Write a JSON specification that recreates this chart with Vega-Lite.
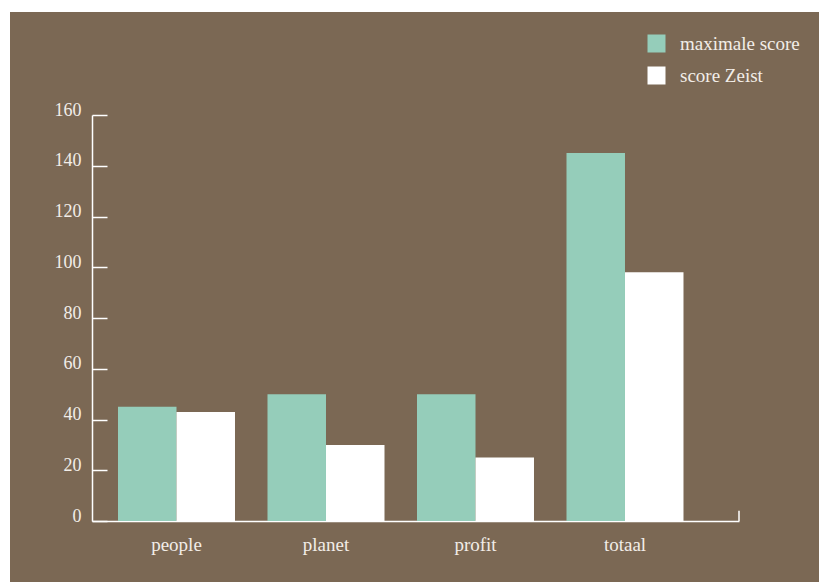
{
  "$schema": "https://vega.github.io/schema/vega-lite/v6.json",
  "width": 809,
  "height": 570,
  "autosize": {"type": "none"},
  "padding": {"left": 10, "top": 12, "right": 0, "bottom": 0},
  "background": "#ffffff",
  "config": {
    "view": {"fill": "#7B6854", "stroke": null},
    "font": "Liberation Serif"
  },
  "data": {
    "values": [
      {"categorie": "people", "reeks": "maximale score", "waarde": 45},
      {"categorie": "people", "reeks": "score Zeist", "waarde": 43},
      {"categorie": "planet", "reeks": "maximale score", "waarde": 50},
      {"categorie": "planet", "reeks": "score Zeist", "waarde": 30},
      {"categorie": "profit", "reeks": "maximale score", "waarde": 50},
      {"categorie": "profit", "reeks": "score Zeist", "waarde": 25},
      {"categorie": "totaal", "reeks": "maximale score", "waarde": 145},
      {"categorie": "totaal", "reeks": "score Zeist", "waarde": 98}
    ]
  },
  "layer": [
    {
      "mark": {"type": "bar"},
      "encoding": {
        "x": {
          "field": "categorie",
          "type": "nominal",
          "sort": ["people", "planet", "profit", "totaal"],
          "scale": {"range": [82, 729], "paddingInner": 0.2174, "paddingOuter": 0.2726, "align": 0.319},
          "axis": {
            "title": null,
            "offset": -61,
            "ticks": false,
            "labelAngle": 0,
            "labelFont": "Liberation Serif",
            "labelFontSize": 19,
            "labelColor": "#F2EDE8",
            "labelPadding": 14,
            "domainColor": "#FFFFFF",
            "domainWidth": 1.5
          }
        },
        "xOffset": {"field": "reeks", "type": "nominal", "sort": ["maximale score", "score Zeist"]},
        "y": {
          "field": "waarde",
          "type": "quantitative",
          "scale": {"domain": [0, 160], "range": [509, 103]},
          "axis": {
            "title": null,
            "offset": -82,
            "values": [0, 20, 40, 60, 80, 100, 120, 140, 160],
            "grid": false,
            "tickSize": -15,
            "tickColor": "#FFFFFF",
            "tickWidth": 1.5,
            "domainColor": "#FFFFFF",
            "domainWidth": 1.5,
            "labelFont": "Liberation Serif",
            "labelFontSize": 18,
            "labelColor": "#F2EDE8",
            "labelPadding": 26,
            "labelBaseline": "alphabetic"
          }
        },
        "color": {
          "field": "reeks",
          "type": "nominal",
          "scale": {"domain": ["maximale score", "score Zeist"], "range": ["#95CDBA", "#FFFFFF"]},
          "legend": {
            "title": null,
            "orient": "none",
            "legendX": 637,
            "legendY": 22,
            "symbolType": "square",
            "symbolSize": 324,
            "symbolStrokeWidth": 0,
            "symbolOpacity": 1,
            "labelFont": "Liberation Serif",
            "labelFontSize": 19,
            "labelColor": "#F2EDE8",
            "labelOffset": 14,
            "rowPadding": 12,
            "padding": 0
          }
        }
      }
    },
    {
      "data": {"values": [{"pos": 1, "waarde": 0, "waarde2": 4}]},
      "mark": {"type": "rule", "color": "#FFFFFF", "strokeWidth": 1.5},
      "encoding": {
        "x": {"field": "pos", "type": "quantitative", "scale": {"domain": [0, 1], "range": [82, 729]}, "axis": null},
        "y": {"field": "waarde", "type": "quantitative"},
        "y2": {"field": "waarde2"}
      }
    }
  ],
  "resolve": {"scale": {"x": "independent"}}
}
